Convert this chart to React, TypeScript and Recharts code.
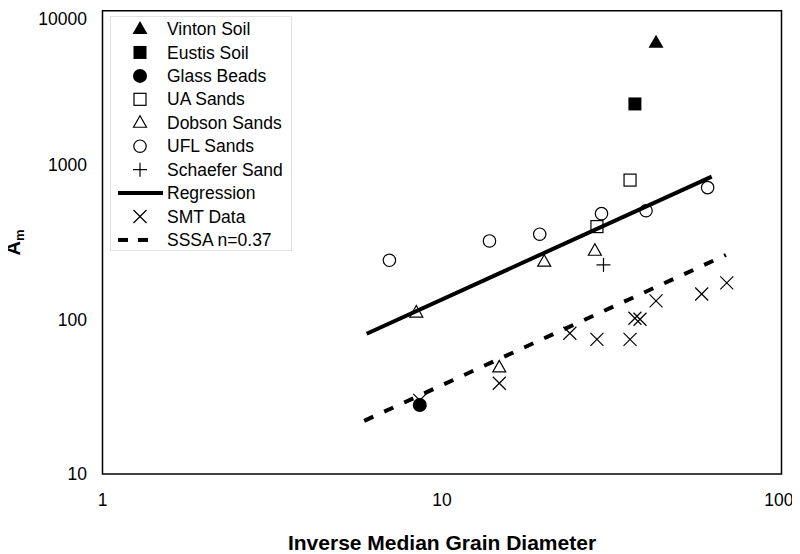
import React from 'react';
import {
  ScatterChart,
  Scatter,
  XAxis,
  YAxis,
  ReferenceArea,
} from 'recharts';

// ---- data (x = inverse median grain diameter, y = A_m) ----
const vintonSoil = [{ x: 42.7, y: 6210 }];
const eustisSoil = [{ x: 37.0, y: 2490 }];
const glassBeads = [{ x: 8.6, y: 28 }];
const uaSands = [
  { x: 35.8, y: 800 },
  { x: 28.6, y: 400 },
];
const dobsonSands = [
  { x: 8.4, y: 111 },
  { x: 14.75, y: 49 },
  { x: 20.0, y: 237 },
  { x: 28.2, y: 279 },
];
const uflSands = [
  { x: 7.0, y: 242 },
  { x: 13.8, y: 323 },
  { x: 19.4, y: 357 },
  { x: 29.5, y: 485 },
  { x: 39.9, y: 507 },
  { x: 60.6, y: 715 },
];
const schaeferSand = [{ x: 29.9, y: 226 }];
const regression = [
  { x: 6.0, y: 81 },
  { x: 62.3, y: 842 },
];
const smtData = [
  { x: 8.6, y: 30 },
  { x: 14.75, y: 38.7 },
  { x: 23.8, y: 81.5 },
  { x: 28.6, y: 74.5 },
  { x: 35.8, y: 74.5 },
  { x: 37.0, y: 102 },
  { x: 38.3, y: 100.5 },
  { x: 42.7, y: 132 },
  { x: 58.2, y: 146.5 },
  { x: 69.0, y: 173 },
];
const sssa = [
  { x: 5.9, y: 22.1 },
  { x: 68.6, y: 262 },
];

const xTicks = [1, 10, 100];
const yTicks = [10, 100, 1000, 10000];

const legendItems = [
  { name: 'Vinton Soil', kind: 'triFill' },
  { name: 'Eustis Soil', kind: 'sqFill' },
  { name: 'Glass Beads', kind: 'circFill' },
  { name: 'UA Sands', kind: 'sq' },
  { name: 'Dobson Sands', kind: 'tri' },
  { name: 'UFL Sands', kind: 'circ' },
  { name: 'Schaefer Sand', kind: 'plus' },
  { name: 'Regression', kind: 'line' },
  { name: 'SMT Data', kind: 'cross' },
  { name: 'SSSA n=0.37', kind: 'dash' },
];

const FONT = '"Liberation Sans", Arial, Helvetica, sans-serif';
const INK = '#000';

function drawMarker(kind: string, cx: number, cy: number) {
  switch (kind) {
    case 'triFill':
      return (
        <polygon
          points={`${cx},${cy - 8} ${cx - 7.5},${cy + 5} ${cx + 7.5},${cy + 5}`}
          fill={INK}
        />
      );
    case 'sqFill':
      return <rect x={cx - 6.5} y={cy - 6.5} width={13} height={13} fill={INK} />;
    case 'circFill':
      return <circle cx={cx} cy={cy} r={7} fill={INK} />;
    case 'sq':
      return (
        <rect x={cx - 6} y={cy - 6} width={12} height={12} fill="none" stroke={INK} strokeWidth={1.2} />
      );
    case 'tri':
      return (
        <polygon
          points={`${cx},${cy - 7} ${cx - 6.5},${cy + 4.5} ${cx + 6.5},${cy + 4.5}`}
          fill="none"
          stroke={INK}
          strokeWidth={1.2}
        />
      );
    case 'circ':
      return <circle cx={cx} cy={cy} r={6.2} fill="none" stroke={INK} strokeWidth={1.2} />;
    case 'plus':
      return (
        <g stroke={INK} strokeWidth={1.2}>
          <line x1={cx - 7} y1={cy} x2={cx + 7} y2={cy} />
          <line x1={cx} y1={cy - 7} x2={cx} y2={cy + 7} />
        </g>
      );
    case 'cross':
      return (
        <g stroke={INK} strokeWidth={1.2}>
          <line x1={cx - 6.5} y1={cy - 6.5} x2={cx + 6.5} y2={cy + 6.5} />
          <line x1={cx - 6.5} y1={cy + 6.5} x2={cx + 6.5} y2={cy - 6.5} />
        </g>
      );
    case 'line':
      return <line x1={cx - 22} y1={cy} x2={cx + 23} y2={cy} stroke={INK} strokeWidth={4} />;
    case 'dash':
      return (
        <g stroke={INK} strokeWidth={4}>
          <line x1={cx - 22} y1={cy} x2={cx - 12} y2={cy} />
          <line x1={cx - 2} y1={cy} x2={cx + 8} y2={cy} />
        </g>
      );
    default:
      return null;
  }
}

const makeShape = (kind: string) => (props: any) => {
  const { cx, cy } = props;
  if (cx == null || cy == null) return <g />;
  return <g>{drawMarker(kind, cx, cy)}</g>;
};

const NoShape = () => <g />;

function LegendBox() {
  return (
    <div
      style={{
        position: 'absolute',
        left: 102,
        top: 8,
        width: 182,
        height: 235,
        border: '1px solid #e2e2e2',
        boxSizing: 'border-box',
        background: '#fff',
      }}
    >
      <svg width={182} height={235} style={{ position: 'absolute', left: -1, top: -1 }}>
        {legendItems.map((it, i) => {
          const cy = 13 + i * 23.44;
          return (
            <g key={it.name}>
              {drawMarker(it.kind, 30, cy)}
              <text x={57} y={cy} dy="0.35em" fontFamily={FONT} fontSize={17.5} fill={INK}>
                {it.name}
              </text>
            </g>
          );
        })}
      </svg>
    </div>
  );
}

const YLabel = () => {
  const cx = 12;
  const cy = 234.5;
  return (
    <text
      x={cx}
      y={cy}
      transform={`rotate(-90, ${cx}, ${cy})`}
      textAnchor="middle"
      fontFamily={FONT}
      fontWeight="bold"
      fill={INK}
    >
      <tspan fontSize={20}>A</tspan>
      <tspan fontSize={13} dy={4}>
        m
      </tspan>
    </text>
  );
};

export default function App() {
  return (
    <div style={{ position: 'relative', width: 784, height: 546, background: '#fff' }}>
      <ScatterChart
        width={784}
        height={546}
        margin={{ top: 2.7, right: 10.5, bottom: 0, left: 0 }}
        style={{ fontFamily: FONT }}
      >
        <XAxis
          type="number"
          dataKey="x"
          scale="log"
          domain={[1, 100]}
          ticks={xTicks}
          allowDataOverflow
          axisLine={false}
          tickLine={false}
          tickMargin={14}
          height={80}
          tick={{ fontSize: 17.5, fill: INK, fontFamily: FONT }}
          label={{
            value: 'Inverse Median Grain Diameter',
            position: 'insideBottom',
            offset: 4,
            style: { fontSize: 21, fontWeight: 'bold', fill: INK, fontFamily: FONT },
          }}
        />
        <YAxis
          type="number"
          dataKey="y"
          scale="log"
          domain={[10, 10000]}
          ticks={yTicks}
          allowDataOverflow
          axisLine={false}
          tickLine={false}
          tickMargin={9.5}
          width={94.5}
          tick={{ fontSize: 17.5, fill: INK, fontFamily: FONT }}
          label={{ content: YLabel }}
        />
        <ReferenceArea
          x1={1}
          x2={100}
          y1={10}
          y2={10000}
          fill="none"
          fillOpacity={0}
          stroke={INK}
          strokeWidth={1.5}
          ifOverflow="visible"
        />
        <Scatter
          name="Regression"
          data={regression}
          line={{ stroke: INK, strokeWidth: 4 }}
          shape={NoShape}
          isAnimationActive={false}
        />
        <Scatter
          name="SSSA n=0.37"
          data={sssa}
          line={{ stroke: INK, strokeWidth: 4, strokeDasharray: '10 12' }}
          shape={NoShape}
          isAnimationActive={false}
        />
        <Scatter name="Vinton Soil" data={vintonSoil} shape={makeShape('triFill')} isAnimationActive={false} />
        <Scatter name="Eustis Soil" data={eustisSoil} shape={makeShape('sqFill')} isAnimationActive={false} />
        <Scatter name="UA Sands" data={uaSands} shape={makeShape('sq')} isAnimationActive={false} />
        <Scatter name="Dobson Sands" data={dobsonSands} shape={makeShape('tri')} isAnimationActive={false} />
        <Scatter name="UFL Sands" data={uflSands} shape={makeShape('circ')} isAnimationActive={false} />
        <Scatter name="Schaefer Sand" data={schaeferSand} shape={makeShape('plus')} isAnimationActive={false} />
        <Scatter name="SMT Data" data={smtData} shape={makeShape('cross')} isAnimationActive={false} />
        <Scatter name="Glass Beads" data={glassBeads} shape={makeShape('circFill')} isAnimationActive={false} />
      </ScatterChart>
      <LegendBox />
    </div>
  );
}
